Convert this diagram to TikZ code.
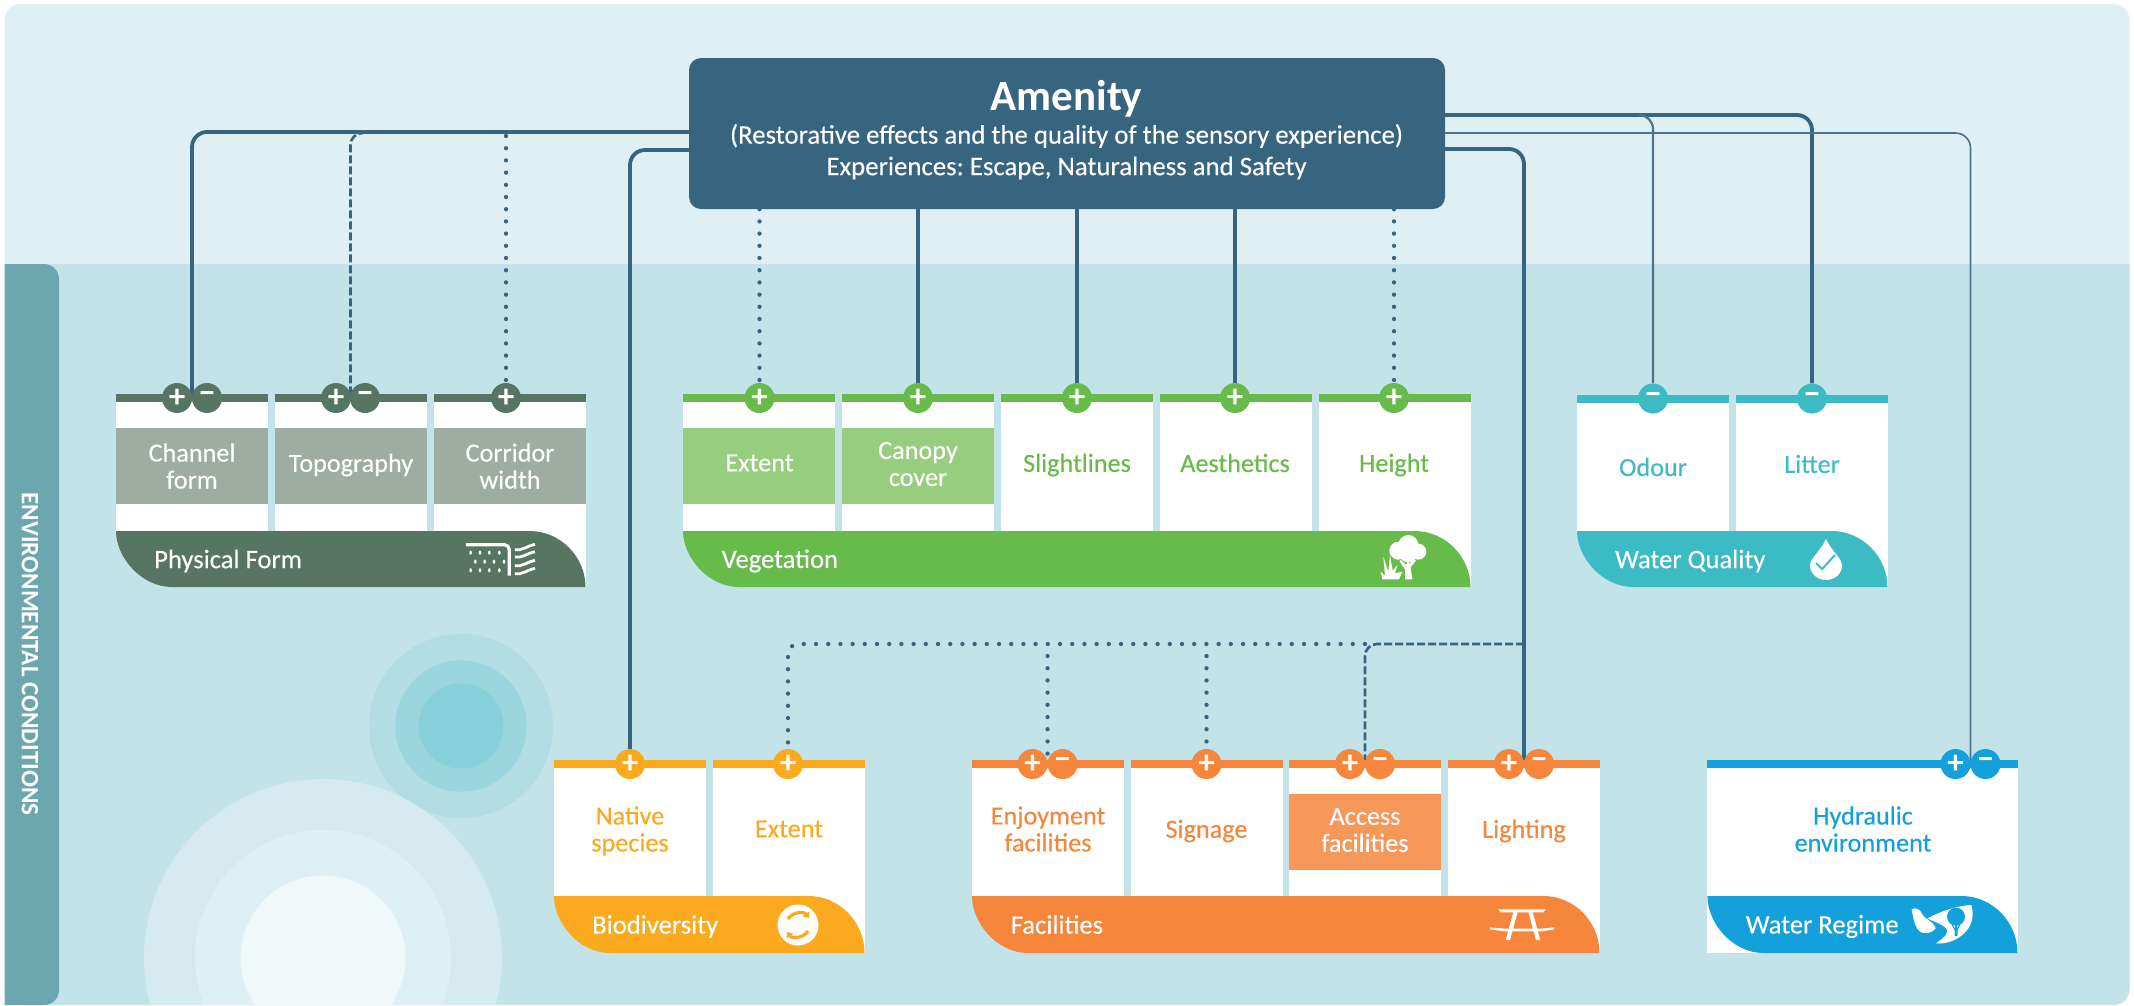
\documentclass[tikz,border=0pt]{standalone}
\usepackage{fontspec}
\setmainfont{Carlito}
\AtBeginDocument{\frenchspacing}
\usetikzlibrary{calc,arrows.meta}
\pgfdeclarelayer{panel}
\pgfdeclarelayer{wires}
\pgfsetlayers{panel,wires,main}
\definecolor{ptop}{HTML}{DFF0F4}
\definecolor{plow}{HTML}{C2E3E8}
\definecolor{pside}{HTML}{6CA6AF}
\definecolor{wirec}{HTML}{37657F}
\definecolor{phys}{HTML}{567562}
\definecolor{physl}{HTML}{9EACA2}
\definecolor{veg}{HTML}{66BB4A}
\definecolor{vegl}{HTML}{97CD7E}
\definecolor{wq}{HTML}{3CBBC4}
\definecolor{bio}{HTML}{FBAA1F}
\definecolor{fac}{HTML}{F6863C}
\definecolor{facl}{HTML}{F8975A}
\definecolor{wr}{HTML}{13A0DB}
\definecolor{ca}{HTML}{B1DDE3}
\definecolor{cb}{HTML}{9BD6DF}
\definecolor{cc}{HTML}{88D1DA}
\definecolor{cd}{HTML}{D4EAEF}
\definecolor{ce}{HTML}{DFF0F4}
\definecolor{cf}{HTML}{F0F8FA}
\tikzset{
  wire/.style={draw=wirec,line width=3.8pt,rounded corners=15pt},
  wiremid/.style={draw=wirec!90!white,line width=2.2pt,rounded corners=14pt},
  wirethin/.style={draw=wirec!90!white,line width=1.6pt,rounded corners=15pt},
  dashwire/.style={draw=wirec,line width=2.6pt,dash pattern=on 8pt off 3pt,rounded corners=12pt},
  dotwire/.style={draw=wirec,line width=4.3pt,line cap=round,dash pattern=on 0pt off 12.2pt,rounded corners=10pt},
  sign/.style={circle,minimum size=30pt,inner sep=0pt,text=white,font=\fontsize{33}{33}\selectfont\bfseries},
  celltext/.style={align=center,inner sep=0pt,font=\fontsize{26.2}{27}\selectfont\addfontfeature{FakeBold=0.2}},
  foottext/.style={anchor=west,inner sep=0pt,text=white,font=\fontsize{26.6}{27}\selectfont\addfontfeature{FakeBold=0.25}},
  amentext/.style={text=white,inner sep=0pt,font=\fontsize{26.8}{27}\selectfont\addfontfeature{FakeBold=0.2}}
}
\newcommand{\cardbg}[6]{% left right top bottom colour band
  \fill[white] (#1,#3) rectangle (#2,#4);
  \fill[#5] (#1,#3) rectangle (#2,#3+8);
  \fill[#6] (#1,#3+34) rectangle (#2,#3+110);
}
\newcommand{\footbar}[5]{% left right top bottom colour
  \fill[#5] (#1,#3) -- ({#2-56},#3) .. controls ({#2-25},#3) and (#2,{#3+26}) .. (#2,#4)
    -- ({#1+56},#4) .. controls ({#1+25},#4) and (#1,{#4-30}) .. (#1,#3) -- cycle;
}
\begin{document}
\begin{tikzpicture}[x=1pt,y=-1pt]
\useasboundingbox (0,0) rectangle (2134,1005);
\begin{pgfonlayer}{panel}
  \fill[ptop,rounded corners=16pt] (4.5,4) rectangle (2129.5,1005);
  \begin{scope}
    \clip[rounded corners=16pt] (4.5,4) rectangle (2129.5,1005);
    \fill[plow] (4.5,264) rectangle (2129.5,1005);
    \fill[ca] (461,726) circle (92);
    \fill[cb] (461,726) circle (65.7);
    \fill[cc] (461,726) circle (42.5);
    \fill[cd] (323,958) circle (179);
    \fill[ce] (323,958) circle (128);
    \fill[cf] (323,958) circle (82.5);
  \end{scope}
  \begin{scope}
    \clip (4.5,264) rectangle (70,1005);
    \fill[pside,rounded corners=15pt] (-20,264) rectangle (59,1005);
  \end{scope}
\end{pgfonlayer}
\node[rotate=-90,text=white,inner sep=0pt,font=\fontsize{25}{27}\selectfont\bfseries] (envlabel) at (30,654) {ENVIRONMENTAL CONDITIONS};
% Amenity
\node[fill=wirec,rounded corners=12pt,minimum width=756pt,minimum height=151pt,inner sep=0pt] (amen) at (1067,133.5) {};
\node[text=white,inner sep=0pt,font=\fontsize{43}{44}\selectfont\bfseries] (amenA) at (1066.5,99) {Amenity};
\node[amentext] (amenB) at (1066.5,136) {(Restorative effects and the quality of the sensory experience)};
\node[amentext] (amenC) at (1066.5,168) {Experiences: Escape, Naturalness and Safety};
% Physical form
\cardbg{116}{268}{394}{531}{phys}{physl}
\cardbg{275}{427}{394}{531}{phys}{physl}
\cardbg{434}{586}{394}{587}{phys}{physl}
\footbar{116}{585.5}{531}{587}{phys}
\node[celltext,text=white] (tchan) at (192,466) {Channel\\form};
\node[celltext,text=white] (ttopo) at (351,465) {Topography};
\node[celltext,text=white] (tcorr) at (510,466) {Corridor\\width};
\node[foottext] (fphys) at (154,561) {Physical Form};
\node[sign,fill=phys] (cfp) at (177,398) {+};
\node[sign,fill=phys] (cfm) at (207,398) {−};
\node[sign,fill=phys] (tpp) at (336,398) {+};
\node[sign,fill=phys] (tpm) at (365,398) {−};
\node[sign,fill=phys] (cwp) at (506,398) {+};
\begin{scope}[shift={(420,510)},x=0.3333pt,y=-0.3333pt]
  \draw[white,line width=3.2pt,rounded corners=5pt] (138,104) -- (268,104) -- (268,197);
  \foreach \yy/\xa in {128/152,155/166,181/152}{
    \foreach \dd in {0,28,56,86}{
      \fill[white] ({\xa+\dd},\yy) circle[x radius=1.3pt,y radius=2.1pt];
    }
  }
  \draw[white,line width=2.8pt] (285,119) .. controls (305,124) and (325,106) .. (345,103);
  \draw[white,line width=2.8pt] (285,141) .. controls (305,146) and (325,128) .. (345,125);
  \draw[white,line width=2.8pt] (285,167) .. controls (305,172) and (325,154) .. (345,151);
  \draw[white,line width=2.8pt] (285,191) .. controls (305,196) and (325,178) .. (345,175);
\end{scope}
% Vegetation
\cardbg{683}{835}{394}{531}{veg}{vegl}
\cardbg{842}{994}{394}{531}{veg}{vegl}
\cardbg{1001}{1153}{394}{531}{veg}{white}
\cardbg{1160}{1312}{394}{531}{veg}{white}
\cardbg{1319}{1471}{394}{587}{veg}{white}
\footbar{683}{1470.5}{531}{587}{veg}
\node[celltext,text=white] (text1) at (759.5,463) {Extent};
\node[celltext,text=white] (tcan) at (918,464) {Canopy\\cover};
\node[celltext,text=veg] (tsli) at (1077,465) {Slightlines};
\node[celltext,text=veg] (taes) at (1235,463) {Aesthetics};
\node[celltext,text=veg] (thei) at (1394,465) {Height};
\node[foottext] (fveg) at (721.5,561) {Vegetation};
\node[sign,fill=veg] (vext) at (759.5,398) {+};
\node[sign,fill=veg] (vcan) at (918,398) {+};
\node[sign,fill=veg] (vsli) at (1077,398) {+};
\node[sign,fill=veg] (vaes) at (1235,398) {+};
\node[sign,fill=veg] (vhei) at (1394,398) {+};
\begin{scope}[shift={(1340,510)},x=0.3333pt,y=-0.3333pt]
  \fill[white] (205,105) circle[radius=10pt];
  \fill[white] (175,122) circle[radius=9pt];
  \fill[white] (235,125) circle[radius=8pt];
  \fill[white] (205,130) circle[radius=9pt];
  \fill[white] (195,208) -- (217,208) -- (212,172) -- (228,152) -- (222,148) -- (207,162) -- (205,145) -- (199,165) -- (183,150) -- (178,153) -- (195,178) -- cycle;
  \fill[white] (127,208) -- (122,185) -- (135,198) -- (130,140) -- (145,185) -- (150,135) -- (158,182) -- (172,165) -- (165,190) -- (187,185) -- (177,208) -- cycle;
\end{scope}
% Water quality
\cardbg{1577}{1729}{395}{531}{wq}{white}
\cardbg{1736}{1888}{395}{587}{wq}{white}
\footbar{1577}{1887.5}{531}{587}{wq}
\node[celltext,text=wq] (todo) at (1653,467) {Odour};
\node[celltext,text=wq] (tlit) at (1812,464) {Litter};
\node[foottext] (fwq) at (1615,561) {Water Quality};
\node[sign,fill=wq] (odo) at (1653,398.5) {−};
\node[sign,fill=wq] (lit) at (1812,398.5) {−};
\fill[white] (1826,539) .. controls (1820,552) and (1810,558) .. (1810,566) .. controls (1810,574) and (1818,580) .. (1826,580) .. controls (1834,580) and (1842,574) .. (1842,566) .. controls (1842,558) and (1832,552) .. (1826,539) -- cycle;
\draw[wq,line width=2pt] (1816,563) -- (1822,569) -- (1835,555);
% Biodiversity
\cardbg{554}{706}{760}{896}{bio}{white}
\cardbg{713}{865}{760}{953}{bio}{white}
\footbar{554}{864.5}{896}{953}{bio}
\node[celltext,text=bio] (tnat) at (630,831) {Native\\species};
\node[celltext,text=bio] (text2) at (789,829) {Extent};
\node[foottext] (fbio) at (592,926.5) {Biodiversity};
\node[sign,fill=bio] (bnat) at (630,764) {+};
\node[sign,fill=bio] (bext) at (788,764) {+};
\fill[white] (798,925) circle (20.5);
\draw[bio,line width=3.2pt,-{Triangle[length=5pt,width=8pt]}] (788,919) .. controls (792,912) and (804,911) .. (809,918);
\draw[bio,line width=3.2pt,-{Triangle[length=5pt,width=8pt]}] (808,931) .. controls (804,938) and (792,939) .. (787,932);
% Facilities
\cardbg{972}{1124}{760}{896}{fac}{white}
\cardbg{1131}{1283}{760}{896}{fac}{white}
\cardbg{1289}{1441}{760}{896}{fac}{facl}
\cardbg{1448}{1600}{760}{953}{fac}{white}
\footbar{972}{1599.5}{896}{953}{fac}
\node[celltext,text=fac] (tenj) at (1048,829) {Enjoyment\\facilities};
\node[celltext,text=fac] (tsig) at (1206.5,831) {Signage};
\node[celltext,text=white] (tacc) at (1365,830) {Access\\facilities};
\node[celltext,text=fac] (tlig) at (1524,831) {Lighting};
\node[foottext] (ffac) at (1010.6,924.5) {Facilities};
\node[sign,fill=fac] (enp) at (1032.5,764) {+};
\node[sign,fill=fac] (enm) at (1062.6,764) {−};
\node[sign,fill=fac] (sig) at (1206.5,764) {+};
\node[sign,fill=fac] (acp) at (1350,764) {+};
\node[sign,fill=fac] (acm) at (1380,764) {−};
\node[sign,fill=fac] (lgp) at (1509,764) {+};
\node[sign,fill=fac] (lgm) at (1539,764) {−};
\begin{scope}[shift={(1460,890)},x=0.3333pt,y=-0.3333pt]
  \fill[white] (115,58) -- (258,58) -- (250,67) -- (122,67) -- cycle;
  \fill[white] (160,66) -- (173,66) -- (150,150) -- (137,150) -- cycle;
  \fill[white] (205,66) -- (218,66) -- (241,150) -- (228,150) -- cycle;
  \fill[white] (90,112) -- (135,116) -- (245,116) -- (283,112) -- (283,118) -- (245,124) -- (135,124) -- (90,118) -- cycle;
\end{scope}
% Water regime
\cardbg{1707.4}{2018}{760}{953}{wr}{white}
\footbar{1707.4}{2017.5}{896}{953}{wr}
\node[celltext,text=wr] (thyd) at (1863,829) {Hydraulic\\environment};
\node[foottext] (fwr) at (1745.7,926.5) {Water Regime};
\node[sign,fill=wr] (wrp) at (1955.5,764) {+};
\node[sign,fill=wr] (wrm) at (1985.5,764) {−};
\begin{scope}[shift={(1900,895)},x=0.3333pt,y=-0.3333pt]
  \fill[white] (35,42) .. controls (50,36) and (62,45) .. (68,60) .. controls (74,72) and (100,78) .. (107,100) .. controls (95,115) and (70,122) .. (55,105) .. controls (42,90) and (38,60) .. (35,42) -- cycle;
  \fill[white] (214,30) .. controls (170,32) and (120,50) .. (82,70) .. controls (105,82) and (138,90) .. (142,108) .. controls (140,125) and (120,135) .. (108,145) .. controls (150,150) and (215,120) .. (218,60) .. controls (218,48) and (217,38) .. (214,30) -- cycle;
  \fill[wr] (168,65) circle[radius=9pt];
  \fill[wr] (165,85) -- (172,85) -- (173,123) -- (164,123) -- cycle;
  \draw[wr,line width=1.1pt] (168,110) -- (156,88);
  \draw[wr,line width=1.1pt] (168,110) -- (180,88);
\end{scope}
% Connectors
\coordinate (cfj) at ($(cfp)!.5!(cfm)$);
\coordinate (tpj) at (350.5,398);
\coordinate (enj) at ($(enp)!.5!(enm)$);
\coordinate (acj) at ($(acp)!.5!(acm)$);
\coordinate (lgj) at ($(lgp)!.5!(lgm)$);
\coordinate (wrj) at ($(wrp)!.5!(wrm)$);
\begin{pgfonlayer}{wires}
  \draw[wire] (amen.west |- 0,132) -| (cfj);
  \draw[wire] (amen.west |- 0,150) -| (bnat);
  \draw[dashwire] ($(tpj |- 0,133)+(8,0)$) -- (tpj |- 0,133) -- (tpj);
  \draw[dotwire] (cwp |- 0,136) -- (cwp);
  \draw[dotwire] (vext |- amen.south) -- (vext);
  \draw[wire] (vcan |- amen.south) -- (vcan);
  \draw[wire] (vsli |- amen.south) -- (vsli);
  \draw[wire] (vaes |- amen.south) -- (vaes);
  \draw[dotwire] (vhei |- amen.south) -- (vhei);
  \draw[wire] (amen.east |- 0,115) -| (lit);
  \draw[wiremid] ($(odo |- 0,115)+(-12,0)$) -- (odo |- 0,115) -- (odo);
  \draw[wirethin] (amen.east |- 0,133) -| (wrj);
  \draw[wire] (amen.east |- 0,149) -| (lgj);
  \draw[dashwire] (lgj |- 0,644) -- (acj |- 0,644) -- (acj);
  \draw[dotwire] (acj |- 0,644) -- (bext |- 0,644) -- (bext);
  \draw[dotwire] (enj |- 0,656) -- (enj);
  \draw[dotwire] (sig |- 0,656) -- (sig);
\end{pgfonlayer}
\end{tikzpicture}
\end{document}
